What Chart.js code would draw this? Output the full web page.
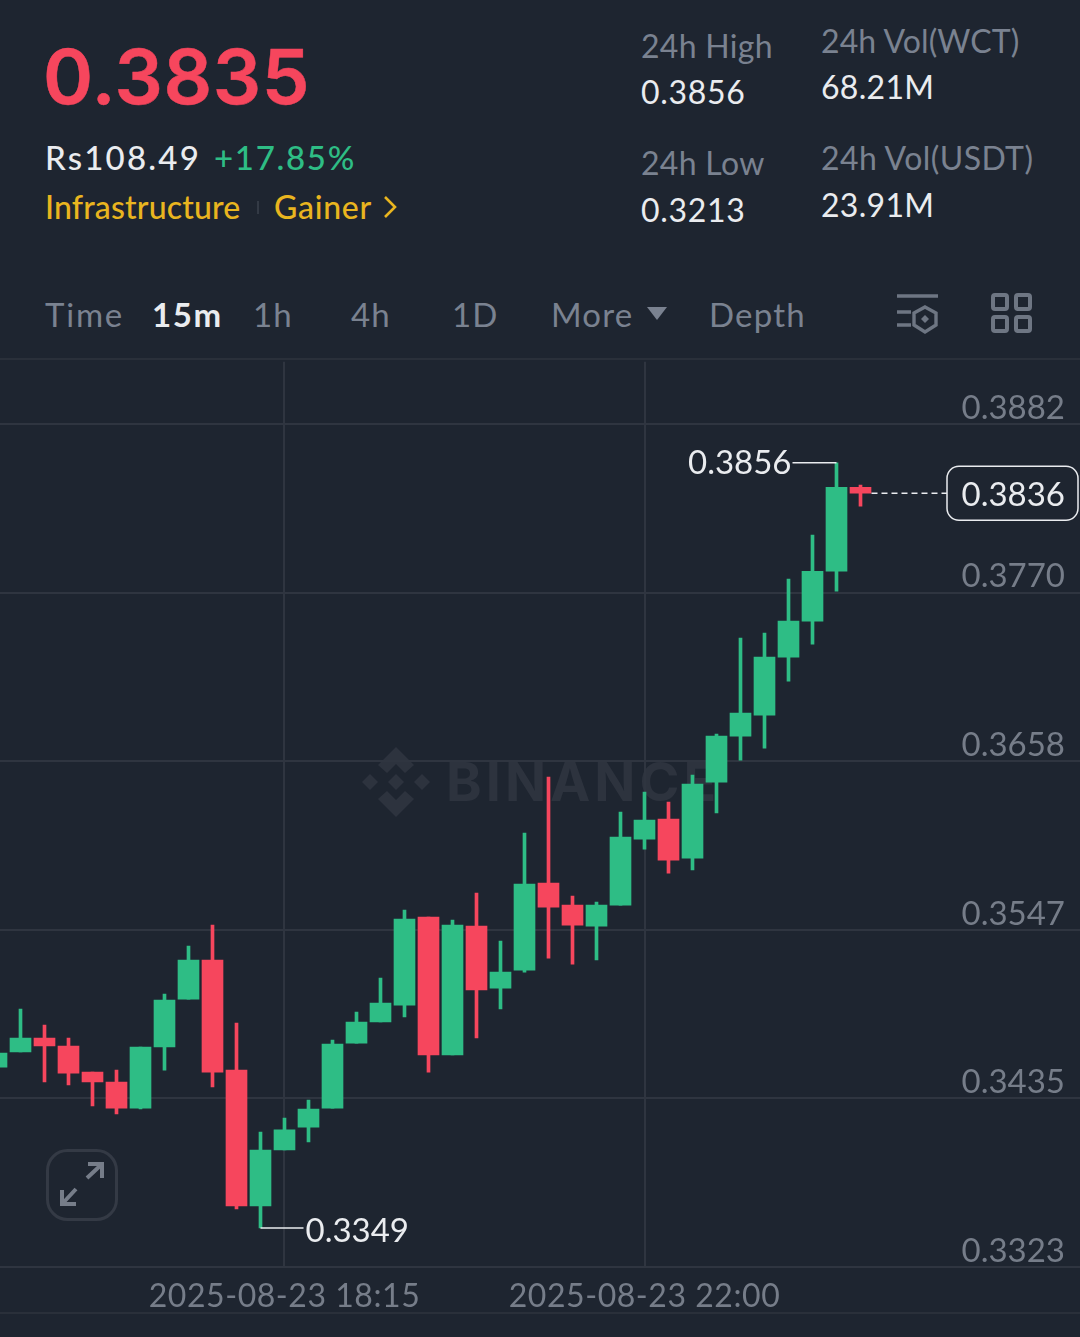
<!DOCTYPE html>
<html>
<head>
<meta charset="utf-8">
<title>WCT/USDT</title>
<script src="https://cdn.jsdelivr.net/npm/chart.js@4"></script>
<style>
html, body { margin: 0; padding: 0; background: #1E2530; }
#page { position: relative; width: 1080px; height: 1337px; overflow: hidden; background: #1E2530; font-family: Lato, sans-serif; }
.t { position: absolute; white-space: nowrap; line-height: 40px; height: 40px; font-size: 32px; }
.grey { color: #7A8290; }
.white { color: #EAECEF; }
.yellow { color: #E9B51F; font-weight: 500; }
.num { letter-spacing: .7px; }
.tab { font-size: 33px; letter-spacing: 1.2px; }
.rule { position: absolute; left: 0; width: 1080px; height: 2px; background: #2A303A; }
#chart { position: absolute; left: 0; top: 357px; }
#wm { position: absolute; left: 446px; top: 745px; font: 700 54px Inter, sans-serif; line-height: 74px; letter-spacing: 4px; color: #2D333E; }
svg { position: absolute; }
</style>
</head>
<body>
<div id="page">
	<div class="t" id="bigPrice" style="left:43px;top:31px;height:90px;font:600 76px/90px Inter,sans-serif;letter-spacing:.6px;-webkit-text-stroke:.5px #F6465D;color:#F6465D">0.3835</div>
	<div class="t white" style="left:45px;top:137px;font-size:33px;font-weight:500;letter-spacing:2.2px">Rs108.49</div>
	<div class="t" style="left:214px;top:137px;font-size:33px;color:#2EBD85;font-weight:500;letter-spacing:1.7px">+17.85%</div>
	<div class="t yellow" style="left:45px;top:187px;letter-spacing:.15px">Infrastructure</div>
	<div style="position:absolute;left:257px;top:201px;width:2px;height:13px;background:#333A45"></div>
	<div class="t yellow" style="left:274px;top:187px;letter-spacing:.7px">Gainer</div>
	<svg style="left:380px;top:194px" width="20" height="26"><path d="M5 3 L15 13 L5 23" fill="none" stroke="#E9B51F" stroke-width="2.6"/></svg>

	<div class="t grey" style="left:641px;top:26px;letter-spacing:.3px">24h High</div>
	<div class="t white num" style="left:641px;top:72px">0.3856</div>
	<div class="t grey" style="left:821px;top:21px;letter-spacing:.1px">24h Vol(WCT)</div>
	<div class="t white num" style="left:821px;top:67px;letter-spacing:.3px">68.21M</div>
	<div class="t grey" style="left:641px;top:143px;letter-spacing:.3px">24h Low</div>
	<div class="t white num" style="left:641px;top:190px">0.3213</div>
	<div class="t grey" style="left:821px;top:138px;letter-spacing:.4px">24h Vol(USDT)</div>
	<div class="t white num" style="left:821px;top:185px;letter-spacing:.3px">23.91M</div>

	<div class="t grey tab" style="left:45px;top:294px;letter-spacing:1.8px">Time</div>
	<div class="t white tab" style="left:152px;top:294px;font-weight:700;letter-spacing:1.6px">15m</div>
	<div class="t grey tab" style="left:253px;top:294px">1h</div>
	<div class="t grey tab" style="left:351px;top:294px">4h</div>
	<div class="t grey tab" style="left:452px;top:294px">1D</div>
	<div class="t grey tab" style="left:551px;top:294px">More</div>
	<svg style="left:645px;top:305px" width="24" height="18"><path d="M2 2 L22 2 L12 15 Z" fill="#7A8290"/></svg>
	<div class="t grey tab" style="left:709px;top:294px">Depth</div>
	<svg style="left:894px;top:292px" width="46" height="44" fill="none" stroke="#6E7683" stroke-width="3.4">
		<path d="M3 4 H44 M3 20 H17 M3 33 H17"/>
		<path d="M31 15 L42 21 V33 L31 40 L20 33 V21 Z"/>
		<path d="M31 23 L35 27 L31 31 L27 27 Z" fill="#6E7683" stroke="none"/>
	</svg>
	<svg style="left:988px;top:292px" width="46" height="44" fill="none" stroke="#6E7683" stroke-width="4">
		<rect x="5" y="3" width="14" height="14" rx="2"/><rect x="28" y="3" width="14" height="14" rx="2"/>
		<rect x="5" y="25" width="14" height="14" rx="2"/><rect x="28" y="25" width="14" height="14" rx="2"/>
	</svg>
	<div class="rule" style="top:358px"></div>

	<svg style="left:358px;top:745px" width="76" height="74" viewBox="0 0 76 74" fill="#2D333E">
		<path d="M38 2 L56 20 L47 28 L38 19 L29 28 L20 20 Z"/>
		<path d="M38 72 L56 54 L47 46 L38 55 L29 46 L20 54 Z"/>
		<path d="M38 29 L46 37 L38 45 L30 37 Z"/>
		<path d="M12 29 L20 37 L12 45 L4 37 Z"/>
		<path d="M64 29 L72 37 L64 45 L56 37 Z"/>
	</svg>
	<div id="wm">BINANCE</div>

	<canvas id="chart" width="1080" height="955"></canvas>
	<div class="rule" style="top:1312px"></div>

	<svg style="left:46px;top:1149px" width="72" height="72" fill="none">
		<rect x="1.5" y="1.5" width="69" height="69" rx="20" stroke="#343A45" stroke-width="3"/>
		<path d="M41 29 L55 16 M42 15 H56 V29 M30 40 L17 54 M16 41 V55 H30" stroke="#767D89" stroke-width="4"/>
	</svg>
</div>

<script>
// 15m candles, index 12 = 18:15 and index 27 = 22:00
var times = ["2025-08-23 15:15","2025-08-23 15:30","2025-08-23 15:45","2025-08-23 16:00","2025-08-23 16:15","2025-08-23 16:30","2025-08-23 16:45","2025-08-23 17:00","2025-08-23 17:15","2025-08-23 17:30","2025-08-23 17:45","2025-08-23 18:00","2025-08-23 18:15","2025-08-23 18:30","2025-08-23 18:45","2025-08-23 19:00","2025-08-23 19:15","2025-08-23 19:30","2025-08-23 19:45","2025-08-23 20:00","2025-08-23 20:15","2025-08-23 20:30","2025-08-23 20:45","2025-08-23 21:00","2025-08-23 21:15","2025-08-23 21:30","2025-08-23 21:45","2025-08-23 22:00","2025-08-23 22:15","2025-08-23 22:30","2025-08-23 22:45","2025-08-23 23:00","2025-08-23 23:15","2025-08-23 23:30","2025-08-23 23:45","2025-08-24 00:00","2025-08-24 00:15"];
var opens  = [.34556,.34656,.34749,.34696,.34523,.34457,.34284,.34689,.35007,.35266,.34536,.33635,.34006,.34158,.34284,.34715,.34855,.34967,.35551,.34636,.35491,.35080,.35199,.35776,.35630,.35491,.35630,.36068,.36201,.35942,.36446,.36751,.36890,.37275,.37514,.37845,.38402];
var closes = [.34649,.34749,.34696,.34516,.34457,.34284,.34689,.35001,.35266,.34523,.33635,.34006,.34139,.34278,.34709,.34855,.34981,.35538,.34636,.35498,.35067,.35186,.35770,.35617,.35498,.35630,.36081,.36194,.35929,.36433,.36751,.36904,.37275,.37514,.37845,.38402,.38362];
var highs  = [.34682,.34941,.34835,.34749,.34523,.34536,.34689,.35040,.35359,.35498,.34848,.34125,.34218,.34337,.34735,.34921,.35146,.35597,.35551,.35531,.35710,.35392,.36108,.36479,.35690,.35650,.36247,.36380,.36313,.36493,.36764,.37401,.37434,.37792,.38084,.38564,.38416];
var lows   = [.34556,.34656,.34457,.34437,.34298,.34245,.34278,.34536,.35007,.34424,.33615,.33489,.34006,.34059,.34284,.34715,.34855,.34888,.34523,.34636,.34749,.34941,.35186,.35279,.35239,.35266,.35630,.36002,.35843,.35863,.36241,.36592,.36672,.37116,.37361,.37713,.38276];
var priceTicks = [.38820,.37702,.36584,.35466,.34348,.33230];
var timeTicks = [12, 27];

var UP = '#2EBD85', DOWN = '#F6465D', GRID = '#2F3540', LABEL = '#767D89', FONT = 'Lato, sans-serif';

var candleColors = opens.map(function(o, i){ return closes[i] >= o ? UP : DOWN; });
var wickData = times.map(function(t, i){ return {x: i, y: [lows[i], highs[i]]}; });
var bodyData = times.map(function(t, i){ return {x: i, y: [opens[i], closes[i]]}; });

// high/low callouts, last price line and pill
var overlay = {
	id: 'overlay',
	afterDatasetsDraw: function(chart){
		var c = chart.ctx, xs = chart.scales.x, ys = chart.scales.y;
		var hi = highs.indexOf(Math.max.apply(null, highs));
		var lo = lows.indexOf(Math.min.apply(null, lows));
		var last = closes.length - 1;
		c.save();
		c.font = '33px ' + FONT;
		c.textBaseline = 'middle';
		c.fillStyle = '#EAECEF';
		c.strokeStyle = '#EAECEF';
		c.lineWidth = 1.5;

		var hx = xs.getPixelForValue(hi), hy = ys.getPixelForValue(highs[hi]);
		c.beginPath(); c.moveTo(hx, hy); c.lineTo(hx - 44, hy); c.stroke();
		c.textAlign = 'right';
		c.fillText(highs[hi].toFixed(4), hx - 45, hy + 1);

		var lx = xs.getPixelForValue(lo), ly = ys.getPixelForValue(lows[lo]);
		c.beginPath(); c.moveTo(lx, ly); c.lineTo(lx + 43, ly); c.stroke();
		c.textAlign = 'left';
		c.fillText(lows[lo].toFixed(4), lx + 45, ly + 3);

		var px = xs.getPixelForValue(last), py = ys.getPixelForValue(closes[last]);
		c.setLineDash([6, 4]);
		c.beginPath(); c.moveTo(px + 11, py); c.lineTo(947, py); c.stroke();
		c.setLineDash([]);
		c.fillStyle = '#1E2530';
		c.beginPath(); c.roundRect(947, py - 27, 131, 54, 12); c.fill(); c.stroke();
		c.fillStyle = '#EAECEF';
		c.textAlign = 'right';
		c.fillText(closes[last].toFixed(4), 1065, py + 2);
		c.restore();
	}
};

new Chart(document.getElementById('chart'), {
	type: 'bar',
	data: {
		datasets: [
			{ data: bodyData, backgroundColor: candleColors, barThickness: 21, grouped: false, order: 1 },
			{ data: wickData, backgroundColor: candleColors, barThickness: 3, grouped: false, order: 2 }
		]
	},
	options: {
		responsive: false,
		animation: false,
		layout: { padding: 0 },
		plugins: { legend: { display: false }, tooltip: { enabled: false } },
		scales: {
			x: {
				type: 'linear',
				offset: false,
				min: 7 / 48,
				max: 7 / 48 + 45,
				afterBuildTicks: function(s){ s.ticks = timeTicks.map(function(v){ return {value: v}; }); },
				afterFit: function(s){ s.height = 45; },
				afterUpdate: function(s){
					// the date labels are set wider than the price labels
					if (s.drawLabels !== s.constructor.prototype.drawLabels) return;
					s.drawLabels = function(area){
						s.ctx.letterSpacing = '.55px';
						s.constructor.prototype.drawLabels.call(s, area);
						s.ctx.letterSpacing = '0px';
					};
				},
				grid: { color: GRID, lineWidth: 2, drawTicks: false, offset: false },
				border: { display: false },
				ticks: {
					autoSkip: false, maxRotation: 0, padding: 10, color: LABEL,
					font: { family: FONT, size: 32 },
					callback: function(v){ return times[v]; }
				}
			},
			y: {
				type: 'linear',
				position: 'right',
				min: 0.3323,
				max: 0.39234,
				afterBuildTicks: function(s){ s.ticks = priceTicks.map(function(v){ return {value: v}; }); },
				grid: { color: GRID, lineWidth: 2, drawTicks: false },
				border: { display: false },
				ticks: {
					mirror: true, padding: -15, labelOffset: -16, color: LABEL,
					font: { family: FONT, size: 33 },
					callback: function(v){ return v.toFixed(4); }
				}
			}
		}
	},
	plugins: [overlay]
});
</script>
</body>
</html>
